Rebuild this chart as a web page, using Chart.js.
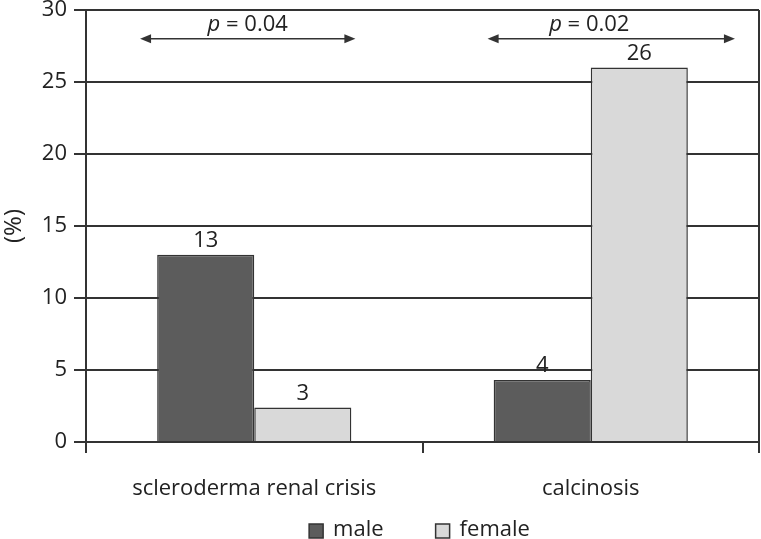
<!DOCTYPE html>
<html>
<head>
<meta charset="utf-8">
<script src="https://cdn.jsdelivr.net/npm/chart.js@4"></script>
<style>
  body { margin: 0; background: #fff; }
  #wrap { width: 761px; height: 539px; }
</style>
</head>
<body>
<div id="wrap"><canvas id="grafico" width="761" height="539"></canvas></div>
<script>
// dados
const categorias = ['scleroderma renal crisis', 'calcinosis'];
const masculino = [13, 4.3];
const feminino = [2.4, 26];
const rotulosMasc = ['13', '4'];
const rotulosFem = ['3', '26'];
const valoresP = ['0.04', '0.02'];
const ticksY = [0, 5, 10, 15, 20, 25, 30];

const corTraco = '#333333';
const fonte = '"Open Sans", "DejaVu Sans", sans-serif';
const tam = 22;

// rótulos, setas de p e legenda
const extras = {
    id: 'extras',
    afterDatasetsDraw(chart) {
        const ctx = chart.ctx;
        const x = chart.scales.x;
        const y = chart.scales.y;
        const area = chart.chartArea;
        ctx.save();
        ctx.fillStyle = '#222';
        ctx.font = tam + 'px ' + fonte;
        ctx.textAlign = 'center';
        ctx.textBaseline = 'bottom';
        const rot = [rotulosMasc, rotulosFem];
        chart.data.datasets.forEach((ds, i) => {
            chart.getDatasetMeta(i).data.forEach((bar, j) => {
                ctx.fillText(rot[i][j], bar.x, bar.y - 3);
            });
        });

        // linha da direita
        ctx.strokeStyle = corTraco;
        ctx.lineWidth = 2;
        ctx.beginPath();
        ctx.moveTo(area.right, area.top);
        ctx.lineTo(area.right, area.bottom + 11);
        ctx.stroke();

        // setas com valor de p
        const spans = [[-114, 101], [-103, 144]];
        const largura = x.getPixelForValue(1) - x.getPixelForValue(0);
        valoresP.forEach((p, i) => {
            const cx = x.getPixelForValue(i);
            const x0 = cx + spans[i][0] / 336 * largura;
            const x1 = cx + spans[i][1] / 336 * largura;
            const ya = y.getPixelForValue(28);
            ctx.strokeStyle = corTraco;
            ctx.fillStyle = corTraco;
            ctx.lineWidth = 1.5;
            ctx.beginPath();
            ctx.moveTo(x0 + 4, ya);
            ctx.lineTo(x1 - 4, ya);
            ctx.stroke();
            ctx.beginPath();
            ctx.moveTo(x0, ya); ctx.lineTo(x0 + 11, ya - 4.5); ctx.lineTo(x0 + 11, ya + 4.5); ctx.closePath();
            ctx.fill();
            ctx.beginPath();
            ctx.moveTo(x1, ya); ctx.lineTo(x1 - 11, ya - 4.5); ctx.lineTo(x1 - 11, ya + 4.5); ctx.closePath();
            ctx.fill();

            const ty = y.getPixelForValue(29.0);
            const italico = 'italic ' + tam + 'px ' + fonte;
            const normal = tam + 'px ' + fonte;
            ctx.font = italico;
            const wp = ctx.measureText('p').width;
            ctx.font = normal;
            const resto = ' = ' + p;
            const wr = ctx.measureText(resto).width;
            const tcx = (x0 + x1) / 2 + (i === 0 ? 0 : -22);
            const sx = tcx - (wp + wr) / 2;
            ctx.fillStyle = '#222';
            ctx.textAlign = 'left';
            ctx.textBaseline = 'middle';
            ctx.font = italico;
            ctx.fillText('p', sx, ty);
            ctx.font = normal;
            ctx.fillText(resto, sx + wp, ty);
        });

        // legenda
        ctx.font = tam + 'px ' + fonte;
        ctx.textBaseline = 'middle';
        ctx.textAlign = 'left';
        const caixa = 14, gapTxt = 10, gapItem = 52;
        const itens = chart.data.datasets.map(ds => ({
            nome: ds.label, cor: ds.backgroundColor, w: ctx.measureText(ds.label).width
        }));
        let total = 0;
        itens.forEach((it, k) => { total += caixa + gapTxt + it.w + (k ? gapItem : 0); });
        let lx = (area.left + area.right) / 2 - 3 - total / 2;
        const ly = 530;
        itens.forEach(it => {
            ctx.fillStyle = it.cor;
            ctx.fillRect(lx, ly - caixa / 2 + 1, caixa, caixa);
            ctx.strokeStyle = corTraco;
            ctx.lineWidth = 1.5;
            ctx.strokeRect(lx, ly - caixa / 2 + 1, caixa, caixa);
            ctx.fillStyle = '#222';
            ctx.fillText(it.nome, lx + caixa + gapTxt, ly);
            lx += caixa + gapTxt + it.w + gapItem;
        });
        ctx.restore();
    }
};

new Chart(document.getElementById('grafico'), {
    type: 'bar',
    data: {
        labels: categorias,
        datasets: [{
            label: 'male',
            data: masculino,
            backgroundColor: '#5c5c5c',
            borderColor: corTraco,
            borderWidth: 1.5,
            categoryPercentage: 0.577,
            barPercentage: 1
        }, {
            label: 'female',
            data: feminino,
            backgroundColor: '#d9d9d9',
            borderColor: corTraco,
            borderWidth: 1.5,
            categoryPercentage: 0.577,
            barPercentage: 1
        }]
    },
    options: {
        responsive: false,
        animation: false,
        layout: { padding: { top: 10, right: 2, left: 0, bottom: 0 } },
        plugins: {
            legend: { display: false },
            tooltip: { enabled: false }
        },
        scales: {
            x: {
                afterFit(s) { s.height = 97; s.paddingLeft = 0; s.paddingRight = 0; },
                grid: { drawOnChartArea: false, tickLength: 11, color: corTraco, lineWidth: 2 },
                border: { color: corTraco, width: 2 },
                ticks: { color: '#222', font: { family: fonte, size: tam }, padding: 23 }
            },
            y: {
                min: 0,
                max: 30,
                afterFit(s) { s.width = 86; s.paddingTop = 0; s.paddingBottom = 0; },
                afterBuildTicks(s) { s.ticks = ticksY.map(v => ({ value: v })); },
                grid: { color: corTraco, lineWidth: 2, tickLength: 12 },
                border: { color: corTraco, width: 2 },
                ticks: { color: '#222', font: { family: fonte, size: tam }, padding: 7 },
                title: { display: true, text: '(%)', color: '#222', font: { family: fonte, size: 24 }, padding: 0 }
            }
        }
    },
    plugins: [extras]
});
</script>
</body>
</html>
